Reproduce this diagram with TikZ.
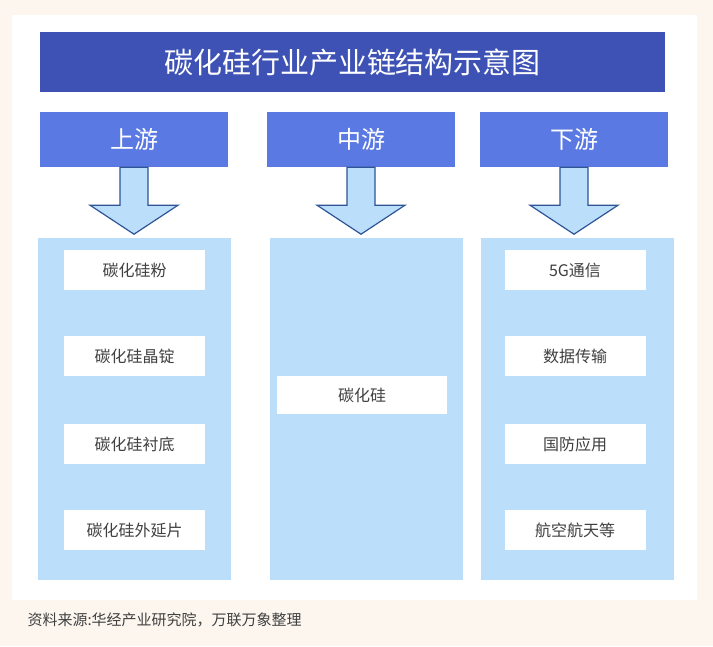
\documentclass[tikz,border=0pt]{standalone}
\usepackage{fontspec}
\newfontfamily\cjk{Noto Sans CJK SC}
\usetikzlibrary{positioning}
\definecolor{titleblue}{HTML}{3D52B4}
\definecolor{headblue}{HTML}{5A79E2}
\definecolor{colblue}{HTML}{BBDEFA}
\definecolor{arrowline}{HTML}{2F5597}
\definecolor{cream}{HTML}{FCF6EF}
\definecolor{itemtext}{HTML}{404040}
\tikzset{
  head/.style={fill=headblue,minimum width=188pt,minimum height=55pt,text=white,font=\cjk\fontsize{24}{26}\selectfont},
  column/.style={fill=colblue,minimum width=193pt,minimum height=342pt},
  item/.style={fill=white,minimum width=141pt,minimum height=40pt,text=itemtext,font=\cjk\fontsize{16}{18}\selectfont},
  downarrow/.style={fill=colblue,draw=arrowline,line width=1.2pt,line join=miter},
}
\begin{document}
\begin{tikzpicture}[x=1pt,y=-1pt]
\fill[cream] (0,0) rectangle (713,646);
\fill[white] (12,15) rectangle (697,600);
\node[fill=titleblue,minimum width=625pt,minimum height=60pt,text=white,font=\cjk\fontsize{29}{31}\selectfont] (title) at (352.5,62) {碳化硅行业产业链结构示意图};
\node[head] (up) at (134,139.5) {上游};
\node[head] (mid) at (361,139.5) {中游};
\node[head] (down) at (574,139.5) {下游};
\node[column] (ucol) at (134.5,409) {};
\node[column] (mcol) at (366,409) {};
\node[column] (dcol) at (577.5,409) {};
% arrows
\foreach \h in {up,mid,down}{
  \draw[downarrow] ([xshift=-14pt]\h.south) -- ++(0,38) -- ++(-30,0) -- ([yshift=-67pt]\h.south)
    -- ++(44,-29) -- ++(-30,0) -- ([xshift=14pt]\h.south) -- cycle;
}
% upstream
\node[item] (u1) at (134.5,270) {碳化硅粉};
\node[item] (u2) at (134.5,356) {碳化硅晶锭};
\node[item] (u3) at (134.5,444) {碳化硅衬底};
\node[item] (u4) at (134.5,530) {碳化硅外延片};
% midstream
\node[item,minimum width=170pt,minimum height=38pt] (m1) at (362,395) {碳化硅};
% downstream
\node[item] (d1) at (575,270) {5G通信};
\node[item] (d2) at (575,356) {数据传输};
\node[item] (d3) at (575,444) {国防应用};
\node[item] (d4) at (575,530) {航空航天等};
\node[anchor=west,text=itemtext,font=\cjk\fontsize{15}{17}\selectfont] (src) at (24,620) {资料来源:华经产业研究院，万联万象整理};
\end{tikzpicture}
\end{document}
